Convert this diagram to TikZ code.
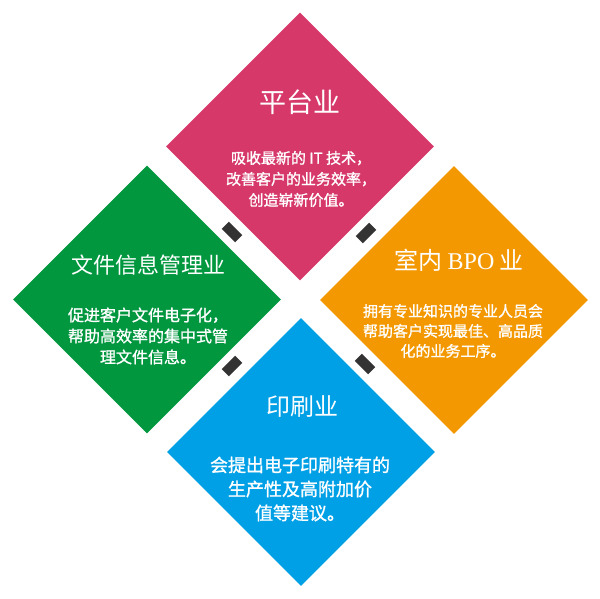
\documentclass[tikz,border=0pt]{standalone}
\usepackage{fontspec}
\setmainfont{Noto Sans CJK SC}
\newfontfamily\cjkbody[FakeBold=1.2]{Noto Sans CJK SC}
\newfontfamily\latserif{Liberation Serif}
\usetikzlibrary{shapes.geometric}
\definecolor{cpink}{HTML}{D6386A}
\definecolor{cgreen}{HTML}{00973F}
\definecolor{corange}{HTML}{F39800}
\definecolor{cblue}{HTML}{00A0E6}
\definecolor{cdark}{HTML}{333333}
\tikzset{
  petal/.style={diamond, shape aspect=1, minimum width=268pt, minimum height=268pt, inner sep=0pt, draw=none},
  link/.style={rectangle, fill=cdark, minimum width=19pt, minimum height=10pt, inner sep=0pt},
  ttl/.style={text=white, inner sep=0pt, align=center},
  bdy/.style={text=white, inner sep=0pt, align=center},
}
\begin{document}
\begin{tikzpicture}[x=1pt,y=-1pt]
\useasboundingbox (0,0) rectangle (600,599);
\fill[white] (0,0) rectangle (600,599);
\node[petal, fill=cpink]   (top)    at (300,146.5) {};
\node[petal, fill=cgreen]  (left)   at (147,299.5) {};
\node[petal, fill=corange] (right)  at (454,300) {};
\node[petal, fill=cblue]   (bottom) at (301,452) {};

\node[link, rotate=-45] (l1) at (232,232) {};
\node[link, rotate=45]  (l2) at (366,233) {};
\node[link, rotate=45]  (l3) at (232,366) {};
\node[link, rotate=-45] (l4) at (365,364) {};

\node[ttl, font=\fontsize{27}{30}\selectfont] (t1) at (300,102) {平台业};
\node[bdy, font=\cjkbody\fontsize{15}{21}\selectfont] (b1) at (301,179) {吸收最新的 IT 技术，\\改善客户的业务效率，\\创造崭新价值。};

\node[ttl, font=\fontsize{22}{26}\selectfont] (t2) at (148,265) {文件信息管理业};
\node[bdy, font=\cjkbody\fontsize{16}{21}\selectfont] (b2) at (148,336) {促进客户文件电子化，\\帮助高效率的集中式管\\理文件信息。};

\node[ttl, font=\fontsize{24}{28}\selectfont] (t3) at (459,260) {室内 {\latserif BPO} 业};
\node[bdy, font=\cjkbody\fontsize{15}{20}\selectfont] (b3) at (453,331) {拥有专业知识的专业人员会\\帮助客户实现最佳、高品质\\化的业务工序。};

\node[ttl, font=\fontsize{24}{28}\selectfont] (t4) at (302,407) {印刷业};
\node[bdy, font=\cjkbody\fontsize{18}{24}\selectfont] (b4) at (300,489) {会提出电子印刷特有的\\生产性及高附加价\\值等建议。};
\end{tikzpicture}
\end{document}
